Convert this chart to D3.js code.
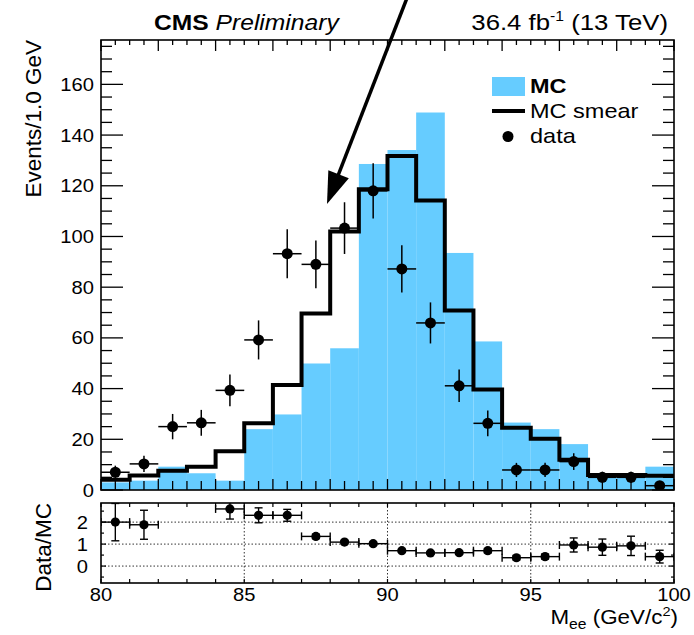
<!DOCTYPE html>
<html>
<head>
<meta charset="utf-8">
<script src="https://cdn.jsdelivr.net/npm/d3@7/dist/d3.min.js"></script>
<style>
  html, body { margin: 0; padding: 0; background: #fff; }
  svg { display: block; }
  text { font-family: 'Liberation Sans', Arial, Helvetica, sans-serif; fill: #000; }
</style>
</head>
<body>
<div id="chart"></div>
<script>
// ---------------- data ----------------
const binLow = [80, 81, 82, 83, 84, 85, 86, 87, 88, 89, 90, 91, 92, 93, 94, 95, 96, 97, 98, 99];
const binWidth = 1.0;
const mcValues    = [3, 3.7, 9.2, 6.6, 3.7, 24, 29.8, 49.9, 55.9, 128.6, 134.1, 148.9, 93.5, 58.6, 26.6, 24, 18.1, 5.5, 5.5, 9.2];
const smearValues = [4, 5.7, 7.6, 9.2, 15.3, 26.3, 41.4, 69.6, 102, 118.6, 131.7, 114.2, 70.8, 39.6, 24.6, 20.2, 11.9, 5.9, 5.9, 5.6];
const dataValues  = [7, 10.3, 25, 26.5, 39.3, 59.2, 93.2, 89, 103.3, 118, 87.2, 65.9, 41.1, 26.3, 7.9, 7.9, 11.2, 5, 5, 1.7];
const dataErrors  = [2.6, 3.2, 5, 5.1, 6.3, 7.7, 9.7, 9.4, 10.2, 10.9, 9.3, 8.1, 6.4, 5.1, 2.8, 2.8, 3.3, 2.2, 2.2, 1.3];

const ratioCenters = [80.5, 81.5, 84.5, 85.5, 86.5, 87.5, 88.5, 89.5, 90.5, 91.5, 92.5, 93.5, 94.5, 95.5, 96.5, 97.5, 98.5, 99.5];
const ratioValues  = [2.0, 1.88, 2.6, 2.31, 2.31, 1.35, 1.09, 1.02, 0.70, 0.60, 0.61, 0.70, 0.38, 0.43, 0.96, 0.86, 0.92, 0.43];
const ratioErrors  = [0.85, 0.66, 0.46, 0.34, 0.27, 0.10, 0.08, 0.07, 0.06, 0.06, 0.07, 0.10, 0.10, 0.11, 0.32, 0.37, 0.44, 0.29];

const yTicksTop = [0, 20, 40, 60, 80, 100, 120, 140, 160];
const yTicksRatio = [0, 1, 2];
const xTickLabels = [80, 85, 90, 95, 100];
const legendLabels = ["MC", "MC smear", "data"];

// ---------------- layout ----------------
const W = 694, H = 635;
const L = 101, R = 674, T1 = 40, B1 = 490, T2 = 503, B2 = 583;
const SX = 1.12;          // horizontal stretch of text
const BLUE = "#66ccff";

const svg = d3.select("#chart").append("svg").attr("width", W).attr("height", H);

const x = d3.scaleLinear().domain([80, 100]).range([L, R]);
const y1 = d3.scaleLinear().domain([0, 177.5]).range([B1, T1]);
const y2 = d3.scaleLinear().domain([-0.77, 2.87]).range([B2, T2]);

function label(g, px, py, anchor, size, parts, rot) {
  const t = g.append("text")
    .attr("transform", rot ? `translate(${px},${py}) rotate(-90)` : `translate(${px},${py}) scale(${SX},1)`)
    .attr("text-anchor", anchor)
    .style("font-size", size + "px");
  parts.forEach(p => {
    const ts = t.append("tspan").text(p.t);
    if (p.w) ts.style("font-weight", p.w);
    if (p.i) ts.style("font-style", "italic");
    if (p.s) ts.style("font-size", p.s + "px");
    if (p.dy) ts.attr("dy", p.dy);
  });
  return t;
}

// clip paths
const defs = svg.append("defs");
defs.append("clipPath").attr("id", "clipTop").append("rect")
  .attr("x", L).attr("y", T1).attr("width", R - L).attr("height", B1 - T1);
defs.append("clipPath").attr("id", "clipBot").append("rect")
  .attr("x", L).attr("y", T2).attr("width", R - L).attr("height", B2 - T2);

// ---------------- upper panel ----------------
const upper = svg.append("g").attr("clip-path", "url(#clipTop)");

upper.selectAll("rect.mc").data(binLow).enter().append("rect")
  .attr("class", "mc")
  .attr("x", d => x(d))
  .attr("width", d => x(d + binWidth) - x(d))
  .attr("y", (d, i) => y1(mcValues[i]))
  .attr("height", (d, i) => y1(0) - y1(mcValues[i]))
  .attr("fill", BLUE);

const stepPts = binLow.map((d, i) => [d, smearValues[i]]);
stepPts.push([binLow[binLow.length - 1] + binWidth, smearValues[smearValues.length - 1]]);
upper.append("path")
  .attr("d", d3.line().x(d => x(d[0])).y(d => y1(d[1])).curve(d3.curveStepAfter)(stepPts))
  .attr("fill", "none").attr("stroke", "#000").attr("stroke-width", 4)
  .attr("stroke-linejoin", "miter");

const dpts = upper.append("g");
binLow.forEach((d, i) => {
  const c = d + binWidth / 2;
  dpts.append("line").attr("x1", x(d)).attr("x2", x(d + binWidth))
    .attr("y1", y1(dataValues[i])).attr("y2", y1(dataValues[i]))
    .attr("stroke", "#000").attr("stroke-width", 1.5);
  dpts.append("line").attr("x1", x(c)).attr("x2", x(c))
    .attr("y1", y1(dataValues[i] - dataErrors[i])).attr("y2", y1(dataValues[i] + dataErrors[i]))
    .attr("stroke", "#000").attr("stroke-width", 1.5);
  dpts.append("circle").attr("cx", x(c)).attr("cy", y1(dataValues[i])).attr("r", 5.5).attr("fill", "#000");
});

// upper frame and ticks
const ax1 = svg.append("g").attr("stroke", "#000").attr("stroke-width", 1.3);
d3.range(80, 100.001, 0.5).forEach(v => {
  const major = Math.abs(v % 2) < 1e-6;
  ax1.append("line").attr("x1", x(v)).attr("x2", x(v)).attr("y1", T1).attr("y2", T1 + (major ? 11 : 5));
  ax1.append("line").attr("x1", x(v)).attr("x2", x(v)).attr("y1", B1).attr("y2", B1 - (major ? 11 : 9));
});
d3.range(0, 177.5, 5).forEach(v => {
  const major = v % 20 === 0;
  const tl = major ? 22 : 11;
  ax1.append("line").attr("x1", L).attr("x2", L + tl).attr("y1", y1(v)).attr("y2", y1(v));
  ax1.append("line").attr("x1", R).attr("x2", R - tl).attr("y1", y1(v)).attr("y2", y1(v));
});
svg.append("rect").attr("x", L).attr("y", T1).attr("width", R - L).attr("height", B1 - T1)
  .attr("fill", "none").attr("stroke", "#000").attr("stroke-width", 1.6);

yTicksTop.forEach(v => label(svg, 94, y1(v) + 6.5, "end", 18, [{ t: String(v) }]));

// ---------------- lower panel ----------------
const grid = svg.append("g").attr("stroke", "#333").attr("stroke-width", 1).attr("stroke-dasharray", "1.5,2");
[85, 90, 95].forEach(v => grid.append("line").attr("x1", x(v)).attr("x2", x(v)).attr("y1", T2).attr("y2", B2));
yTicksRatio.forEach(v => grid.append("line").attr("x1", L).attr("x2", R).attr("y1", y2(v)).attr("y2", y2(v)));

const bot = svg.append("g").attr("clip-path", "url(#clipBot)");
ratioCenters.forEach((c, i) => {
  const xl = x(c - binWidth / 2), xr = x(c + binWidth / 2), xc = x(c);
  const yc = y2(ratioValues[i]);
  const yt = y2(ratioValues[i] + ratioErrors[i]), yb = y2(ratioValues[i] - ratioErrors[i]);
  const ln = (a, b, c2, d) => bot.append("line").attr("x1", a).attr("y1", b).attr("x2", c2).attr("y2", d)
    .attr("stroke", "#000").attr("stroke-width", 1.4);
  ln(xl, yc, xr, yc);
  ln(xl, yc - 4, xl, yc + 4);
  ln(xr, yc - 4, xr, yc + 4);
  ln(xc, yt, xc, yb);
  ln(xc - 4, yt, xc + 4, yt);
  ln(xc - 4, yb, xc + 4, yb);
  bot.append("circle").attr("cx", xc).attr("cy", yc).attr("r", 4.6).attr("fill", "#000");
});

const ax2 = svg.append("g").attr("stroke", "#000").attr("stroke-width", 1.2);
d3.range(80, 100.001, 1).forEach(v => {
  ax2.append("line").attr("x1", x(v)).attr("x2", x(v)).attr("y1", T2).attr("y2", T2 + 4);
  ax2.append("line").attr("x1", x(v)).attr("x2", x(v)).attr("y1", B2).attr("y2", B2 - 4);
});
d3.range(-0.5, 2.87, 0.5).forEach(v => {
  const major = Math.abs(v - Math.round(v)) < 1e-6;
  const tl = major ? 5 : 3;
  ax2.append("line").attr("x1", L).attr("x2", L + tl).attr("y1", y2(v)).attr("y2", y2(v));
  ax2.append("line").attr("x1", R).attr("x2", R - tl).attr("y1", y2(v)).attr("y2", y2(v));
});
svg.append("rect").attr("x", L).attr("y", T2).attr("width", R - L).attr("height", B2 - T2)
  .attr("fill", "none").attr("stroke", "#000").attr("stroke-width", 1.6);

yTicksRatio.forEach(v => label(svg, 88, y2(v) + 6.5, "end", 18, [{ t: String(v) }]));
xTickLabels.forEach(v => label(svg, x(v), 601, "middle", 18, [{ t: String(v) }]));

// ---------------- titles ----------------
label(svg, 41, T1, "end", 22.5, [{ t: "Events/1.0 GeV" }], true);
label(svg, 51, T2, "end", 22.5, [{ t: "Data/MC" }], true);
label(svg, 678, 624, "end", 20, [
  { t: "M" }, { t: "ee", s: 14, dy: 5 }, { t: " (GeV/c", dy: -5 }, { t: "2", s: 13, dy: -8 }, { t: ")", dy: 8 }
]);

label(svg, 154, 30, "start", 22, [{ t: "CMS", w: "bold" }, { t: " " }, { t: "Preliminary", i: true }]);
label(svg, 668, 30, "end", 23, [
  { t: "36.4 fb" }, { t: "-1", s: 14, dy: -9 }, { t: " (13 TeV)", dy: 9 }
]);

// ---------------- legend ----------------
const lg = svg.append("g");
lg.append("rect").attr("x", 492).attr("y", 77).attr("width", 33).attr("height", 19).attr("fill", BLUE);
lg.append("line").attr("x1", 492).attr("x2", 525).attr("y1", 111).attr("y2", 111)
  .attr("stroke", "#000").attr("stroke-width", 4);
lg.append("circle").attr("cx", 508).attr("cy", 136.5).attr("r", 5.5).attr("fill", "#000");
label(lg, 530, 93, "start", 21, [{ t: legendLabels[0], w: "bold" }]);
label(lg, 530, 118, "start", 21, [{ t: legendLabels[1] }]);
label(lg, 530, 143, "start", 21, [{ t: legendLabels[2] }]);

// ---------------- arrow annotation ----------------
const tip = [327, 204], tail = [407, -2];
const adx = tip[0] - tail[0], ady = tip[1] - tail[1];
const alen = Math.hypot(adx, ady), ux = adx / alen, uy = ady / alen;
const HL = 32, HW = 11;
const base = [tip[0] - HL * ux, tip[1] - HL * uy];
svg.append("line").attr("x1", tail[0]).attr("y1", tail[1]).attr("x2", base[0] + 4 * ux).attr("y2", base[1] + 4 * uy)
  .attr("stroke", "#000").attr("stroke-width", 3.5);
svg.append("path")
  .attr("d", `M${tip[0]},${tip[1]} L${base[0] + HW * uy},${base[1] - HW * ux} L${base[0] - HW * uy},${base[1] + HW * ux} Z`)
  .attr("fill", "#000");
</script>
</body>
</html>
